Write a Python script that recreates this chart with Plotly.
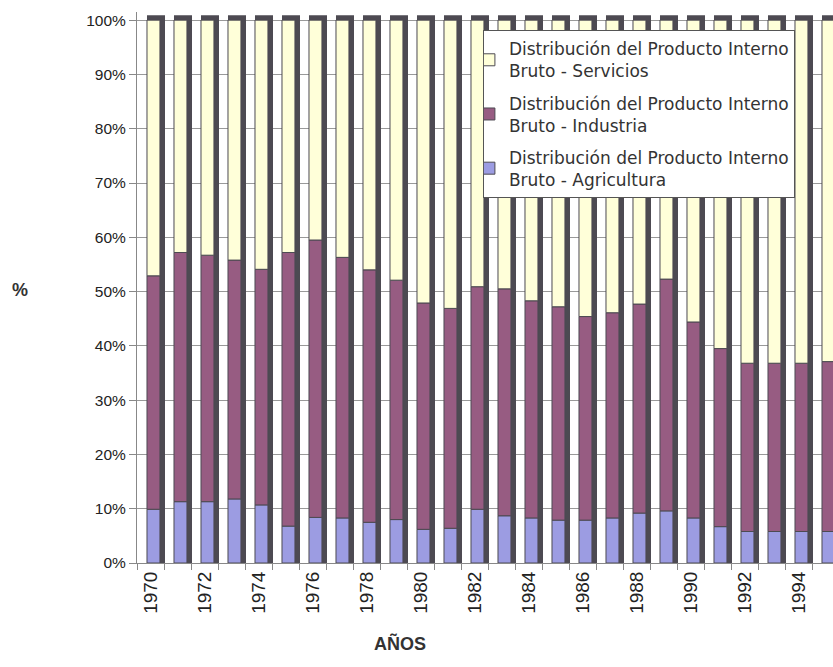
import numpy as np
import plotly.graph_objects as go

# Distribución del PIB por sector (%), 1970-1995
years = list(range(1970, 1996))
agricultura = [9.9, 11.3, 11.3, 11.8, 10.7, 6.8, 8.4, 8.3, 7.5, 8.0, 6.2, 6.4, 9.9,
               8.7, 8.3, 7.9, 7.9, 8.3, 9.2, 9.6, 8.3, 6.7, 5.8, 5.8, 5.8, 5.8]
industria = [43.0, 45.9, 45.4, 44.0, 43.4, 50.4, 51.1, 48.0, 46.5, 44.1, 41.7, 40.5, 41.0,
             41.8, 40.0, 39.3, 37.5, 37.8, 38.5, 42.7, 36.1, 32.8, 31.0, 31.0, 31.0, 31.3]
servicios = [47.1, 42.8, 43.3, 44.2, 45.9, 42.8, 40.5, 43.7, 46.0, 47.9, 52.1, 53.1, 49.1,
             49.5, 51.7, 52.8, 54.6, 53.9, 52.3, 47.7, 55.6, 60.5, 63.2, 63.2, 63.2, 62.9]
year_ticks = list(range(1970, 1996, 2))
pct_ticks = list(range(0, 101, 10))

names = {
    "serv": "Distribución del Producto Interno<br>Bruto - Servicios",
    "ind": "Distribución del Producto Interno<br>Bruto - Industria",
    "agri": "Distribución del Producto Interno<br>Bruto - Agricultura",
}

C_SERV = "#FFFFD9"
C_IND = "#975C82"
C_AGRI = "#9C9CE2"
C_SIDE = "#4D4A52"
FONT = "Liberation Sans, Arial, sans-serif"
LEGEND_FONT = "DejaVu Sans, Liberation Sans, sans-serif"

agri = np.array(agricultura)
ind = np.array(industria)
serv = np.array(servicios)
total = agri + ind + serv

FRONT_W, FRONT_OFF = 0.48, -0.13
SIDE_W = 0.667
DEPTH = 0.9  # height of the column's top face, in axis units

fig = go.Figure()

# dark side/top faces that give the columns their 3-D look
fig.add_trace(go.Bar(
    x=years, y=total + DEPTH, base=0, width=SIDE_W, offset=FRONT_OFF,
    marker=dict(color=C_SIDE, line=dict(width=0)),
    showlegend=False, hoverinfo="skip",
))

edge = dict(color=C_SIDE, width=1)
fig.add_trace(go.Bar(
    x=years, y=agri, base=0, width=FRONT_W, offset=FRONT_OFF,
    marker=dict(color=C_AGRI, line=edge), name=names["agri"],
    legendrank=3, legendgroup="agri",
))
fig.add_trace(go.Bar(
    x=years, y=ind, base=agri, width=FRONT_W, offset=FRONT_OFF,
    marker=dict(color=C_IND, line=edge), name=names["ind"],
    legendrank=2, legendgroup="ind",
))
fig.add_trace(go.Bar(
    x=years, y=serv, base=agri + ind, width=FRONT_W, offset=FRONT_OFF,
    marker=dict(color=C_SERV, line=edge), name=names["serv"],
    legendrank=1, legendgroup="serv",
))

fig.update_layout(
    width=833, height=667,
    margin=dict(l=137, r=0, t=12, b=104),
    barmode="overlay",
    plot_bgcolor="white", paper_bgcolor="white",
    font=dict(family=FONT, color="#333"),
    legend=dict(
        x=0.497, y=0.967, xanchor="left", yanchor="top",
        bgcolor="white", bordercolor="#555", borderwidth=1,
        font=dict(size=17, color="#333", family=LEGEND_FONT),
        indentation=-15, tracegroupgap=7,
    ),
    xaxis=dict(
        range=[1969.5, 1969.5 + 696 / 27],
        tickmode="array", tickvals=year_ticks, ticktext=[str(y) for y in year_ticks],
        tickangle=-90, tickfont=dict(size=19, color="#222"),
        ticks="", showgrid=False, zeroline=False,
        showline=True, linecolor="#888", linewidth=1,
        minor=dict(tickmode="linear", tick0=1969.5, dtick=1, ticks="outside",
                   ticklen=6, tickcolor="#888", showgrid=False),
    ),
    yaxis=dict(
        range=[0, 101.5],
        tickmode="array", tickvals=pct_ticks, ticktext=[f"{v}%" for v in pct_ticks],
        tickfont=dict(size=15.5, color="#222"),
        ticks="outside", ticklen=7, tickcolor="#888",
        showline=True, linecolor="#888", linewidth=1,
        showgrid=True, gridcolor="#999", gridwidth=1, zeroline=False,
    ),
    annotations=[
        dict(text="<b>%</b>", xref="paper", yref="paper", x=-0.183, y=0.4955,
             showarrow=False, font=dict(size=18, color="#333", family=FONT)),
        dict(text="<b>AÑOS</b>", xref="paper", yref="paper", x=0.378, y=-0.169,
             showarrow=False, font=dict(size=18, color="#333", family=FONT)),
    ],
)

fig.write_html("out.html")
